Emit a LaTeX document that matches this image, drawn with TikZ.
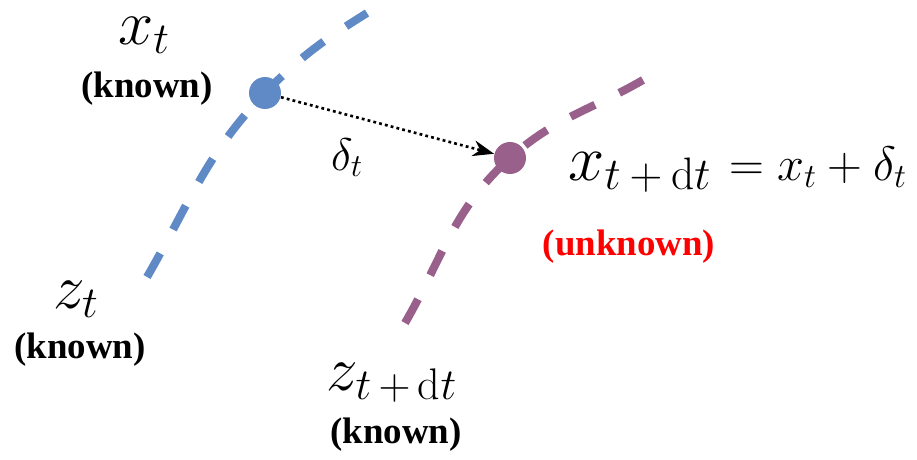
\RequirePackage{fix-cm}
\documentclass[tikz,border=0pt]{standalone}
\usepackage{fontspec}
\newfontfamily\notofont{Liberation Serif}
\usetikzlibrary{arrows.meta,backgrounds}
\definecolor{curvablu}{RGB}{96,138,197}
\definecolor{curvaviola}{RGB}{152,96,138}
\begin{document}
\begin{tikzpicture}[x=0.02cm, y=-0.02cm, line width=0.6pt,
  punto/.style={circle, fill, inner sep=0pt, minimum size=0.64cm},
  noto/.style={font=\fontsize{21}{24}\notofont\bfseries, inner sep=0pt, anchor=base},
  grande/.style={font=\fontsize{36}{40}\selectfont, inner sep=0pt, anchor=base},
  curva/.style={line width=4.6pt, dash pattern=on 15.4pt off 15.4pt}]
\useasboundingbox (0,0) rectangle (917,460);
\node[punto, curvablu] (xt) at (265,93) {};
\node[punto, curvaviola] (xdt) at (510,158) {};
\coordinate (zt0) at (147,277);
\coordinate (zt1) at (367,13);
\coordinate (zdt0) at (405,323);
\coordinate (zdt1) at (643,80);
\begin{scope}[on background layer]
\draw[curva, curvablu] (zt0) to[out=60, in=226] (xt.center) to[out=46, in=212] (zt1);
\draw[curva, curvaviola] (zdt0) to[out=60, in=222] (xdt.center) to[out=42, in=210] (zdt1);
\end{scope}
\draw[-{Stealth[length=12pt, width=9pt]}, line width=1.5pt, dash pattern=on 1.6pt off 1.8pt] (xt) -- (xdt);
\node[font=\fontsize{26}{30}\selectfont, inner sep=0pt, anchor=base] (ldelta) at (347,170) {$\delta_t$};
\node[grande] (lxt) at (144,44) {$x_t$};
\node[noto] (kxt) at (147,97) {(known)};
\node[grande] (lzt) at (76,308) {$z_t$};
\node[noto] (kzt) at (80,358) {(known)};
\node[grande] (lzdt) at (392,390) {$z_{t\mskip3mu+\mskip3mu\mathrm{d}t}$};
\node[noto] (kzdt) at (396,443) {(known)};
% la posizione futura non e' nota
\node[anchor=base west, inner sep=0pt] (eq) at (568,180)
  {\fontsize{37}{40}\selectfont$x_{t\mskip3.5mu+\mskip3.5mu\mathrm{d}t}$\hspace{10pt}\fontsize{27.5}{30}\selectfont$=x_t+\delta_t$};
\node[noto, text=red] (kxdt) at (629,255) {(unknown)};
\end{tikzpicture}
\end{document}
